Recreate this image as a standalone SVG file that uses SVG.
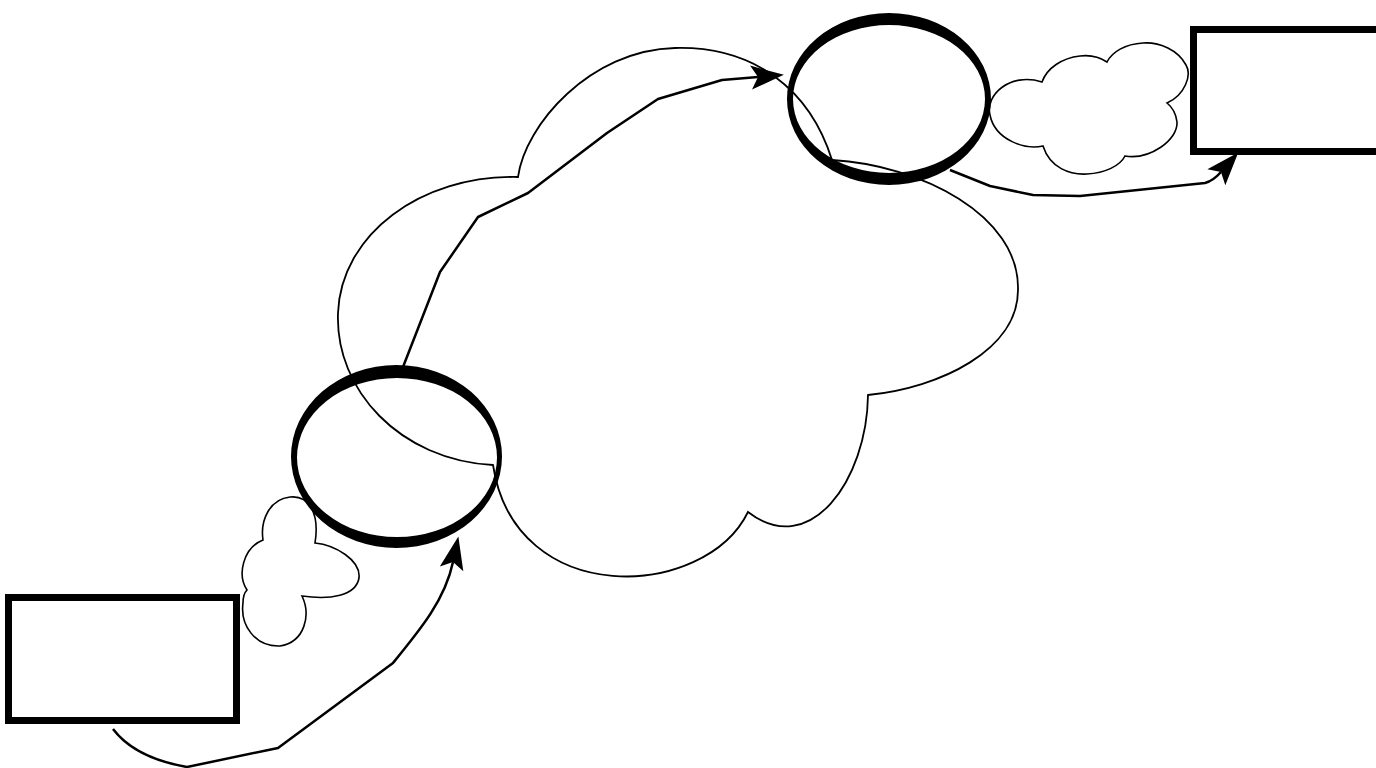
<svg xmlns="http://www.w3.org/2000/svg" width="1376" height="768" viewBox="0 0 1376 768">
<style>
.cloud{fill:none;stroke:#000;stroke-width:1.8;stroke-linejoin:miter}
.small{fill:none;stroke:#000;stroke-width:1.6}
.ring{fill:#000;fill-rule:evenodd;stroke:none}
.box{fill:none;stroke:#000;stroke-width:7}
.conn{fill:none;stroke:#000;stroke-width:2.5;stroke-linejoin:round}
</style>
<defs>
<marker id="arr" markerUnits="userSpaceOnUse" markerWidth="40" markerHeight="30" refX="0" refY="0" viewBox="-10 -15 40 30" orient="auto" overflow="visible">
<path d="M26,0 L-7,-12 L0,0 L-7,12 Z" fill="#000"/>
</marker>
</defs>
<rect width="1376" height="768" fill="#fff"/>
<g id="bigCloud">
<path class="cloud" d="M493,465 C400,460 335,390 338,313 C341,235 420,175 518,177 C525,125 590,50 675,48 C755,46 810,90 832,160 C920,165 1020,215 1018,290 C1018,350 940,388 868,395 C867,480 810,560 748,512 C705,600 515,610 493,465 Z"/>
</g>
<g id="cloudLeft">
<path class="small" d="M263,540 C260,520 270,499 290,497 C308,495 320,512 315,543 C335,545 361,560 359,578 C356,596 330,600 302,596 C311,615 305,642 280,646 C255,647 240,625 243,603 C243,596 245,592 247,590 C237,575 243,548 263,540 Z"/>
</g>
<g id="cloudRight">
<path class="small" d="M1042,82 C1010,72 985,95 990,115 C995,140 1025,150 1043,146 C1050,168 1070,175 1087,174 C1105,173 1120,166 1125,156 C1150,160 1178,140 1177,122 C1176,113 1172,107 1167,103 C1185,95 1192,75 1186,65 C1178,50 1160,42 1143,43 C1125,44 1112,52 1107,62 C1098,56 1088,55 1080,56 C1062,58 1047,68 1042,82 Z"/>
</g>
<g id="routerA">
<path class="ring" d="M291,456.5 a105.5,91.5 0 1,0 211,0 a105.5,91.5 0 1,0 -211,0 Z M297,457.5 a100,79.5 0 1,0 200,0 a100,79.5 0 1,0 -200,0 Z"/>
</g>
<g id="routerB">
<path class="ring" d="M787,99 a102,86 0 1,0 204,0 a102,86 0 1,0 -204,0 Z M793,99 a96,74 0 1,0 192,0 a96,74 0 1,0 -192,0 Z"/>
</g>
<g id="hostA">
<rect class="box" x="8.5" y="597.5" width="228" height="123"/>
</g>
<g id="hostB">
<rect class="box" x="1193.5" y="29.5" width="200" height="122"/>
</g>
<g id="connectors">
<path class="conn" marker-end="url(#arr)" d="M113,729 Q135,758 187,767 L278,748 L393,663 C420,630 445,600 453,562"/>
<path class="conn" marker-end="url(#arr)" d="M403,367 L440,272 L478,217 L528,193 L607,133 L658,99 L722,80 L758,77"/>
<path class="conn" marker-end="url(#arr)" d="M950,170 L990,186 L1033,195 L1080,196 L1205,183 Q1213,181 1221,172"/>
</g>
</svg>
